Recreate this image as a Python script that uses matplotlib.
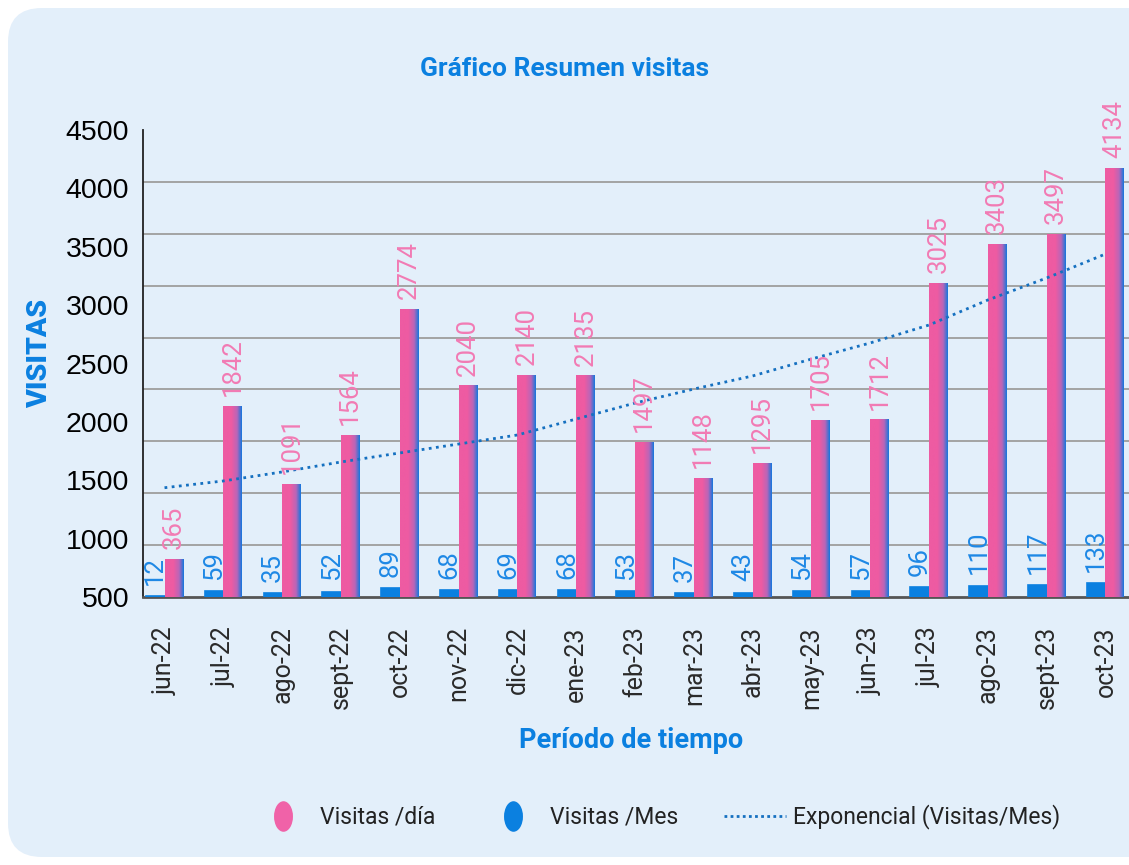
import numpy as np
import matplotlib.pyplot as plt
from matplotlib.colors import LinearSegmentedColormap
from matplotlib.patches import FancyBboxPatch
from matplotlib.lines import Line2D
from matplotlib.path import Path
from matplotlib.transforms import Affine2D, ScaledTranslation

meses = ['jun-22', 'jul-22', 'ago-22', 'sept-22', 'oct-22', 'nov-22', 'dic-22',
         'ene-23', 'feb-23', 'mar-23', 'abr-23', 'may-23', 'jun-23', 'jul-23',
         'ago-23', 'sept-23', 'oct-23']
visitas_dia = [365, 1842, 1091, 1564, 2774, 2040, 2140, 2135, 1497, 1148,
               1295, 1705, 1712, 3025, 3403, 3497, 4134]
visitas_mes = [12, 59, 35, 52, 89, 68, 69, 68, 53, 37, 43, 54, 57, 96, 110, 117, 133]
# linea de tendencia
tendencia = [1053, 1118, 1205, 1301, 1388, 1474, 1561, 1715, 1869, 2004,
             2130, 2293, 2448, 2621, 2862, 3074, 3305]
# etiquetas del eje y tal como aparecen (no coinciden con la rejilla)
etiquetas_y = ['500', '1000', '1500', '2000', '2500', '3000', '3500', '4000', '4500']

ROSA = '#EE5BA2'
AZUL = '#0B80E0'
TXT_ROSA = '#F27BB4'
FONDO = '#E3EFFA'

fig = plt.figure(figsize=(11.29, 8.65), dpi=100)
fig.patch.set_facecolor('white')
panel = FancyBboxPatch((8 / 1129, 8 / 865), 1.2, 849 / 865,
                       boxstyle='round,pad=0,rounding_size=0.03',
                       transform=fig.transFigure, facecolor=FONDO,
                       edgecolor='none', zorder=-5,
                       mutation_aspect=1129 / 865)
fig.add_artist(panel)

ax = fig.add_axes([143 / 1129, 268 / 865, 986 / 1129, 467 / 865])
ax.set_facecolor('none')
ax.set_zorder(2)

x = np.arange(len(meses))
w = 0.316
b_mes = ax.bar(x - w / 2, visitas_mes, w, color=AZUL, edgecolor=AZUL,
               linewidth=1.2, zorder=3)
b_dia = ax.bar(x + w / 2, visitas_dia, w, color=ROSA, zorder=3)

# degradado horizontal rosa -> azul dentro de cada barra
cmap = LinearSegmentedColormap.from_list(
    'grad', [(0, ROSA), (0.45, ROSA), (0.75, '#B866B8'), (1, '#1677DD')])
grad = np.linspace(0, 1, 64).reshape(1, -1)
for r in b_dia:
    x0, y0 = r.get_x(), r.get_y()
    im = ax.imshow(grad, cmap=cmap, aspect='auto', zorder=3.5,
                   extent=(x0, x0 + r.get_width(), y0, y0 + r.get_height()))
    im.set_clip_path(r)

ax.plot(x, tendencia, linestyle=(0, (1, 1.6)), color='#1570C0',
        linewidth=2, zorder=4)

for r, v in zip(b_dia, visitas_dia):
    ax.annotate(str(v), (r.get_x() + r.get_width() / 2, r.get_height()),
                xytext=(0, 7), textcoords='offset points', rotation=90,
                ha='center', va='bottom', color=TXT_ROSA, fontsize=18.5,
                family='Roboto', zorder=5)
for r, v in zip(b_mes, visitas_mes):
    ax.annotate(str(v), (r.get_x() + r.get_width() / 2, r.get_height()),
                xytext=(0, 8), textcoords='offset points', rotation=90,
                ha='center', va='bottom', color='#1E88E5', fontsize=18.5,
                family='Roboto', zorder=5)

ax.set_xlim(-0.366, 16.4)
ax.set_ylim(0, 4500)
ax.set_yticks(np.arange(0, 4501, 500), minor=True)
ax.set_yticks(np.linspace(0, 4500, len(etiquetas_y)))
ax.set_yticklabels(etiquetas_y, family='Liberation Sans', fontsize=20.5)
up = ScaledTranslation(0, 3 / 100, fig.dpi_scale_trans)
for lab in ax.get_yticklabels():
    lab.set_transform(lab.get_transform() + up)
ax.grid(axis='y', which='minor', color='#A3A3A3', linewidth=1.4, zorder=1)
ax.set_axisbelow(True)
ax.tick_params(axis='y', which='both', length=0, pad=10)
ax.set_xticks(x)
ax.set_xticklabels(meses, rotation=90, family='Roboto', fontsize=18,
                   color='#2a2a2a')
ax.tick_params(axis='x', length=0, pad=21)

for s in ['top', 'right']:
    ax.spines[s].set_visible(False)
ax.spines['left'].set_color('#222222')
ax.spines['left'].set_linewidth(1.3)
ax.spines['bottom'].set_color('#555555')
ax.spines['bottom'].set_linewidth(2)

fig.text(565 / 1129, 1 - 69 / 865, 'Gráfico Resumen visitas', ha='center',
         va='center', color=AZUL, fontsize=19, fontweight='bold',
         family='Roboto')
fig.text(40 / 1129, 1 - 353 / 865, 'VISITAS', rotation=90, ha='center',
         va='center', color=AZUL, fontsize=20.5, fontweight='heavy',
         family='Roboto')
fig.text(631 / 1129, 1 - 741 / 865, 'Período de tiempo', ha='center',
         va='center', color=AZUL, fontsize=19.5, fontweight='bold',
         family='Roboto')

elipse = Path.unit_circle().transformed(Affine2D().scale(0.62, 1))
handles = [
    Line2D([], [], marker=elipse, linestyle='none', markersize=22,
           markerfacecolor='#F062A8', markeredgecolor='none'),
    Line2D([], [], marker=elipse, linestyle='none', markersize=22,
           markerfacecolor=AZUL, markeredgecolor='none'),
    Line2D([], [], linestyle=(0, (1, 1.2)), color='#1570C0', linewidth=2),
]
leg = fig.legend(handles, ['Visitas /día', 'Visitas /Mes',
                           'Exponencial (Visitas/Mes)'],
                 loc='center', bbox_to_anchor=(656 / 1129, 1 - 817 / 865),
                 ncol=3, frameon=False, handlelength=2.7,
                 columnspacing=2.0, handletextpad=0.3,
                 prop={'family': 'Roboto', 'size': 16.5})
for t in leg.get_texts():
    t.set_color('#222222')

fig.savefig('out.png', dpi=100)
